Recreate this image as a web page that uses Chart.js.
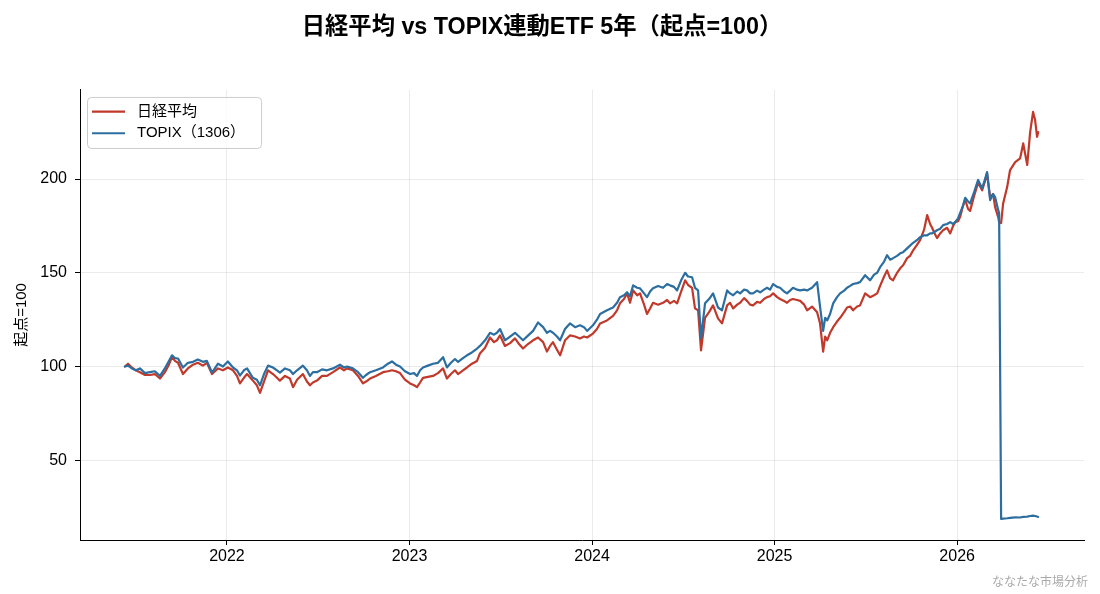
<!DOCTYPE html>
<html lang="ja">
<head>
<meta charset="utf-8">
<title>日経平均 vs TOPIX連動ETF 5年</title>
<script src="https://cdn.jsdelivr.net/npm/chart.js@4.4.1/dist/chart.umd.min.js"></script>
<style>
  html, body { margin: 0; padding: 0; background: #fff; }
  #wrap { width: 1100px; height: 594px; position: relative; }
</style>
</head>
<body>
<div id="wrap"><canvas id="myChart"></canvas></div>
<script>
// Data - START
// dates as decimal years (2022.0 = 1 Jan 2022)
const t = [
  2021.441, 2021.458, 2021.479, 2021.501, 2021.523, 2021.551, 2021.578, 2021.605, 2021.633, 2021.660,
  2021.682, 2021.699, 2021.715, 2021.732, 2021.759, 2021.786, 2021.814, 2021.841, 2021.868, 2021.890,
  2021.918, 2021.951, 2021.978, 2022.005, 2022.033, 2022.055, 2022.071, 2022.093, 2022.110, 2022.142,
  2022.164, 2022.181, 2022.203, 2022.225, 2022.252, 2022.274, 2022.290, 2022.318, 2022.345, 2022.362,
  2022.384, 2022.416, 2022.438, 2022.455, 2022.471, 2022.493, 2022.521, 2022.548, 2022.581, 2022.619,
  2022.641, 2022.658, 2022.690, 2022.718, 2022.745, 2022.762, 2022.784, 2022.816, 2022.855, 2022.882,
  2022.904, 2022.926, 2022.948, 2022.975, 2023.003, 2023.025, 2023.041, 2023.058, 2023.074, 2023.101,
  2023.129, 2023.156, 2023.184, 2023.205, 2023.227, 2023.249, 2023.266, 2023.293, 2023.315, 2023.342,
  2023.370, 2023.386, 2023.414, 2023.441, 2023.463, 2023.479, 2023.496, 2023.523, 2023.551, 2023.578,
  2023.600, 2023.622, 2023.649, 2023.677, 2023.704, 2023.732, 2023.753, 2023.770, 2023.786, 2023.808,
  2023.825, 2023.852, 2023.879, 2023.907, 2023.934, 2023.956, 2023.973, 2024.005, 2024.027, 2024.044,
  2024.082, 2024.115, 2024.137, 2024.153, 2024.175, 2024.192, 2024.208, 2024.225, 2024.247, 2024.263,
  2024.285, 2024.301, 2024.318, 2024.334, 2024.362, 2024.389, 2024.411, 2024.427, 2024.449, 2024.466,
  2024.488, 2024.510, 2024.526, 2024.548, 2024.564, 2024.581, 2024.597, 2024.619, 2024.641, 2024.663,
  2024.690, 2024.712, 2024.740, 2024.756, 2024.773, 2024.795, 2024.811, 2024.833, 2024.849, 2024.866,
  2024.882, 2024.904, 2024.921, 2024.942, 2024.959, 2024.975, 2024.992, 2025.014, 2025.030, 2025.052,
  2025.068, 2025.085, 2025.101, 2025.123, 2025.140, 2025.162, 2025.178, 2025.205, 2025.233, 2025.249,
  2025.266, 2025.277, 2025.288, 2025.304, 2025.321, 2025.342, 2025.359, 2025.381, 2025.397, 2025.414,
  2025.430, 2025.452, 2025.468, 2025.496, 2025.523, 2025.545, 2025.562, 2025.578, 2025.600, 2025.616,
  2025.633, 2025.649, 2025.671, 2025.688, 2025.704, 2025.726, 2025.742, 2025.759, 2025.781, 2025.797,
  2025.819, 2025.836, 2025.852, 2025.863, 2025.879, 2025.890, 2025.907, 2025.923, 2025.945, 2025.962,
  2025.978, 2025.989, 2026.005, 2026.016, 2026.033, 2026.044, 2026.060, 2026.071, 2026.093, 2026.115,
  2026.137, 2026.153, 2026.164, 2026.181, 2026.197, 2026.208, 2026.225, 2026.230, 2026.241, 2026.252,
  2026.274, 2026.290, 2026.318, 2026.345, 2026.362, 2026.384, 2026.400, 2026.416, 2026.427, 2026.438,
  2026.444
];

const nikkei = [
  100, 101.5, 99.5, 98, 97, 95.5, 95.5, 96, 93.6, 97,
  101, 105, 103, 102, 96, 99, 101, 102, 100.5, 102,
  96, 99, 98, 99.5, 98, 95, 91, 94, 96, 92.5,
  90, 86, 92, 98, 96, 94, 92.5, 95, 93.6, 89,
  93, 96, 92, 90, 91.5, 92.5, 95, 95, 97, 99.5,
  98, 99, 98, 95, 91, 92, 93.6, 95, 97, 97.5,
  98, 97.5, 96.5, 93, 91, 90, 89, 91.5, 94, 94.5,
  95, 96.5, 99, 93.6, 96, 98, 96, 98, 99.5, 101.5,
  103, 107, 110, 115.5, 113, 114, 116.6, 111, 112.5, 115,
  112, 109.6, 112, 114, 115.5, 113, 108, 111, 113, 109,
  106, 114, 116.6, 116, 115, 116, 115.5, 117.6, 120, 123,
  124.6, 127, 130, 133.7, 136, 139, 134, 140.6, 138, 139,
  133, 128, 131, 134, 133, 134, 135.5, 133.7, 135, 133.7,
  140, 146, 143.5, 142, 131, 130, 108.6, 126, 129, 132.6,
  125.7, 123, 132.6, 134, 131, 133, 134, 136.5, 135, 133,
  132.6, 134.5, 134, 136, 137, 137.5, 139, 137, 136, 135,
  134, 135.5, 136, 135.5, 135, 133, 130, 132, 129, 123,
  108, 116, 114, 118, 121, 124, 126, 129, 131.5, 132,
  130, 132, 132.6, 139, 137, 138, 139, 143, 148, 151.3,
  147, 146, 150, 152.4, 154, 157.8, 159, 162, 165, 167.4,
  173, 180.8, 176, 174, 170.5, 168.5, 171, 172.7, 174, 171,
  175, 177, 177.5, 179.7, 186, 189, 184, 183, 191, 198,
  194, 199, 203, 190, 192, 185, 179.7, 177, 176.5, 187,
  195.7, 204.8, 209, 211, 219, 207.5, 225, 235.8, 231.6, 222.5,
  225
];

const topix = [
  100, 100.5, 99, 98, 99, 96.5, 97, 97.5, 95, 99,
  103, 106, 104.5, 104.3, 99.5, 102, 102.5, 103.7, 102.5, 103,
  96.8, 101.5, 100, 102.7, 99.5, 98, 95.2, 98, 99, 94,
  93, 90, 96, 100.5, 99.5, 98, 96.8, 99, 98, 96,
  98, 100.5, 98, 95, 97, 97, 98.5, 98, 99, 101,
  99.5, 100, 99, 97, 94, 95.5, 97, 98, 99.5, 101.5,
  102.7, 101, 100, 97.5, 96, 96.5, 95, 98, 99.5, 100.5,
  101.5, 102, 105, 99.5, 102, 104, 102.5, 104.5, 106, 107.5,
  109.6, 111, 114, 118, 117, 118, 120, 114, 116, 118,
  116, 114, 116.5, 119, 123.5, 121, 118, 119, 118, 116,
  114, 120, 123, 121, 122, 121, 119, 122, 125, 128,
  130, 131.5, 134, 137, 138, 139.6, 137.5, 143.3, 142, 141.7,
  139, 137, 140, 141.7, 143, 142, 144, 143.3, 142.5, 140.6,
  146, 150, 148, 147.6, 142, 140.6, 115, 133.7, 136, 139,
  131.5, 130, 140.6, 139, 138, 140, 139, 141, 140.6, 139,
  139, 140.5, 139.6, 141, 142, 141, 144, 142.5, 142, 140,
  139, 140.5, 142, 141, 140.6, 141, 140.6, 142, 145, 132,
  119, 126, 124.6, 128, 133.7, 137, 139, 140.5, 142, 143,
  144, 144.5, 145, 148.7, 146, 149, 150, 153, 156, 159.4,
  157, 157.8, 159, 160.4, 161, 163, 164.5, 166, 167.5, 169,
  170, 170, 171, 171, 172, 172.7, 173.5, 175.4, 176, 177,
  176, 177, 179, 181.8, 186, 190, 188, 187, 193, 199.5,
  195, 200, 203.7, 188.8, 192, 190.4, 183.4, 182, 18.7, 18.9,
  19.1, 19.3, 19.6, 19.5, 19.8, 20.0, 20.3, 20.5, 20.3, 20.0,
  19.8
];

const yearTicks = [2022, 2023, 2024, 2025, 2026];
const valueTicks = [50, 100, 150, 200];
// Data - END

const FONT = '"Liberation Sans", "Noto Sans CJK JP", sans-serif';
Chart.defaults.font.family = FONT;
Chart.defaults.color = '#000';

const toPoints = (ys) => ys.map((y, i) => ({ x: t[i], y: y }));

// legend box drawn inside the plot, top left
const legendBox = {
    id: 'legendBox',
    afterDatasetsDraw(chart) {
        const { ctx, chartArea } = chart;
        const x0 = chartArea.left + 7;
        const y0 = chartArea.top + 7;
        ctx.save();
        ctx.font = '15px ' + FONT;
        const widths = chart.data.datasets.map(d => ctx.measureText(d.label).width);
        const w = 50 + Math.max(...widths) + 16;
        const h = 51;
        ctx.beginPath();
        if (ctx.roundRect) ctx.roundRect(x0 + 0.5, y0 + 0.5, w, h, 4);
        else ctx.rect(x0 + 0.5, y0 + 0.5, w, h);
        ctx.fillStyle = 'rgba(255,255,255,0.8)';
        ctx.fill();
        ctx.strokeStyle = '#cccccc';
        ctx.lineWidth = 1;
        ctx.stroke();
        chart.data.datasets.forEach((d, i) => {
            const y = y0 + 14.7 + i * 21.6;
            ctx.beginPath();
            ctx.moveTo(x0 + 5, y);
            ctx.lineTo(x0 + 38, y);
            ctx.strokeStyle = d.borderColor;
            ctx.lineWidth = 2.2;
            ctx.stroke();
            ctx.fillStyle = '#000';
            ctx.textBaseline = 'middle';
            ctx.textAlign = 'left';
            ctx.fillText(d.label, x0 + 50, y);
        });
        ctx.restore();
    },
    afterDraw(chart) {
        const ctx = chart.ctx;
        ctx.save();
        ctx.font = '12px ' + FONT;
        ctx.fillStyle = '#aaaaaa';
        ctx.textAlign = 'right';
        ctx.textBaseline = 'middle';
        ctx.fillText('ななたな市場分析', 1088, 583);
        ctx.restore();
    }
};

const data = {
    datasets: [
        {
            label: '日経平均',
            data: toPoints(nikkei),
            borderColor: '#c0392b',
            backgroundColor: '#c0392b',
            borderWidth: 2.2,
            order: 1
        },
        {
            label: 'TOPIX（1306）',
            data: toPoints(topix),
            borderColor: '#2c6e9f',
            backgroundColor: '#2c6e9f',
            borderWidth: 2.2,
            order: 0
        }
    ]
};

const config = {
    type: 'line',
    data: data,
    options: {
        responsive: true,
        maintainAspectRatio: false,
        animation: false,
        layout: { padding: { left: 0, right: 16, top: 0, bottom: 0 } },
        elements: {
            point: { radius: 0 },
            line: { tension: 0, borderJoinStyle: 'round', borderCapStyle: 'round' }
        },
        plugins: {
            legend: { display: false },
            tooltip: { enabled: false },
            title: {
                display: true,
                text: '日経平均 vs TOPIX連動ETF 5年（起点=100）',
                font: { size: 23.3, weight: 'bold' },
                color: '#000',
                padding: { top: 13.5, bottom: 48.5 }
            }
        },
        scales: {
            x: {
                type: 'linear',
                min: 2021.195,
                max: 2026.695,
                afterBuildTicks: (scale) => { scale.ticks = yearTicks.map(v => ({ value: v })); },
                afterFit: (scale) => { scale.height = 54; },
                ticks: { callback: (v) => String(v), font: { size: 16 }, padding: 2, maxRotation: 0 },
                grid: { color: 'rgba(0,0,0,0.08)', tickColor: '#000', tickLength: 5, lineWidth: 1 },
                border: { color: '#000', width: 1 }
            },
            y: {
                min: 7.5,
                max: 247.5,
                afterBuildTicks: (scale) => { scale.ticks = valueTicks.map(v => ({ value: v })); },
                afterFit: (scale) => { scale.width = 80; },
                ticks: { callback: (v) => String(v), font: { size: 16 }, padding: 8 },
                grid: { color: 'rgba(0,0,0,0.08)', tickColor: '#000', tickLength: 5, lineWidth: 1 },
                border: { color: '#000', width: 1 },
                title: {
                    display: true,
                    text: '起点=100',
                    font: { size: 15 },
                    padding: { top: 13, bottom: 0 }
                }
            }
        }
    },
    plugins: [legendBox]
};

new Chart('myChart', config);
</script>
</body>
</html>
